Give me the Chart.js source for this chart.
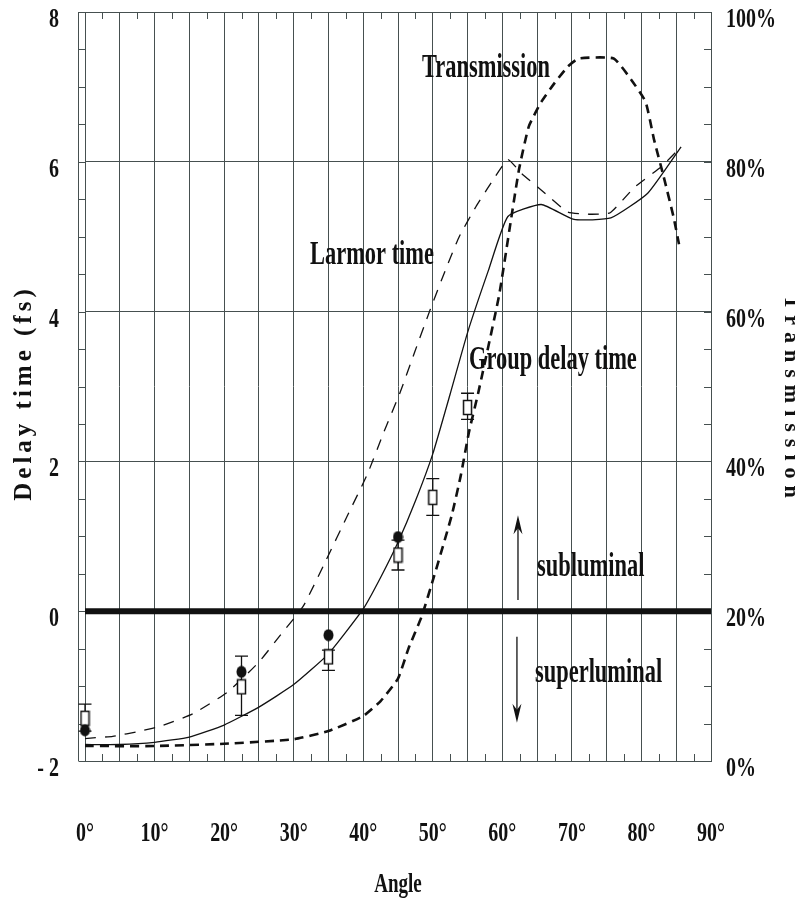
<!DOCTYPE html>
<html>
<head>
<meta charset="utf-8">
<script src="https://cdn.jsdelivr.net/npm/chart.js@4.4.1/dist/chart.umd.min.js"></script>
<style>
  html, body { margin: 0; padding: 0; background: #fff; }
  #wrap { width: 795px; height: 907px; }
</style>
</head>
<body>
<div id="wrap"><canvas id="chart" width="795" height="907"></canvas></div>
<script>
// Larmor time (fs), dashed thin line
const larmorAngle = [0, 4, 8, 11, 15.5, 20.5, 25, 28, 31.4, 34.7, 37.7, 40.6, 43, 45.3, 47.4, 49.6, 51.8, 53.8, 56.2, 58.4, 60.8, 62.7, 66, 69.4, 72.5, 75.5, 79, 82.8, 85.7];
const larmorTime = [-1.7, -1.67, -1.6, -1.53, -1.37, -1.08, -0.68, -0.33, 0.07, 0.69, 1.27, 1.83, 2.4, 2.92, 3.46, 4.02, 4.55, 5.0, 5.4, 5.72, 6.03, 5.85, 5.59, 5.33, 5.3, 5.32, 5.66, 5.93, 6.2];

// Group delay time (fs), solid thin line
const groupAngle = [0, 5, 10, 15, 20, 25, 30, 35, 40, 42.5, 45, 47.5, 50, 52.5, 55, 58, 60.8, 65.6, 70.3, 75.6, 80.9, 85.7];
const groupTime = [-1.78, -1.78, -1.75, -1.68, -1.52, -1.28, -0.98, -0.57, 0.03, 0.45, 0.92, 1.47, 2.1, 2.9, 3.72, 4.55, 5.27, 5.43, 5.23, 5.25, 5.58, 6.2];

// Transmission (%), thick dashed line on the right axis
const transAngle = [0, 10, 20, 30, 35, 40, 42.5, 45, 46.5, 48.4, 50.2, 52.7, 54, 55.2, 56.5, 59.5, 61.2, 62.4, 63.8, 65.6, 67.5, 69.4, 71, 76, 78.5, 80.6, 81.8, 83.2, 84.6, 85.4];
const transPercent = [2, 2, 2.3, 2.9, 4, 6, 8, 11, 15, 19.3, 24.7, 32.7, 38, 43.9, 49, 62, 72, 79, 84.7, 88, 90.5, 92.7, 93.8, 93.8, 91, 88, 83, 78, 72.7, 69];

// measured points: open squares with error bars, filled circles
const squareAngle = [0, 22.5, 35, 45, 50, 55];
const squareTime = [-1.43, -1.01, -0.61, 0.75, 1.52, 2.72];
const squareLow = [-1.6, -1.39, -0.79, 0.55, 1.28, 2.56];
const squareHigh = [-1.24, -0.6, -0.52, 0.95, 1.77, 2.91];
const circleAngle = [0, 22.5, 35, 45];
const circleTime = [-1.59, -0.81, -0.32, 0.99];

const zeroAngle = [0, 90];
const zeroTime = [0, 0];

const xTicks = [0, 10, 20, 30, 40, 50, 60, 70, 80, 90];
const xTickLabels = ['0°', '10°', '20°', '30°', '40°', '50°', '60°', '70°', '80°', '90°'];
const yTicks = [-2, 0, 2, 4, 6, 8];
const yTickLabels = ['- 2', '0', '2', '4', '6', '8'];
const y2Ticks = [0, 20, 40, 60, 80, 100];
const y2TickLabels = ['0%', '20%', '40%', '60%', '80%', '100%'];

const FONT = '"Liberation Serif", "Times New Roman", serif';
const INK = '#111';
const GRID = '#465050';

function pts(xs, ys) { return xs.map((v, i) => ({ x: v, y: ys[i] })); }

function makeSquare() {
  const c = document.createElement('canvas');
  c.width = 11; c.height = 17;
  const g = c.getContext('2d');
  g.fillStyle = '#fff'; g.fillRect(1, 1, 9, 15);
  g.strokeStyle = INK; g.lineWidth = 1.5; g.strokeRect(1.5, 1.5, 8, 14);
  return c;
}
function makeCircle() {
  const c = document.createElement('canvas');
  c.width = 11; c.height = 13;
  const g = c.getContext('2d');
  g.fillStyle = INK; g.beginPath(); g.ellipse(5.5, 6.5, 5, 6, 0, 0, Math.PI * 2); g.fill();
  return c;
}

function condText(ctx, text, x, y, size, sx, align) {
  ctx.save();
  ctx.font = 'bold ' + size + 'px ' + FONT;
  ctx.fillStyle = INK;
  ctx.textAlign = align || 'left';
  ctx.textBaseline = 'alphabetic';
  ctx.translate(x, y);
  ctx.scale(sx, 1);
  ctx.fillText(text, 0, 0);
  ctx.restore();
}

function arrow(ctx, x, y0, y1) {
  const dir = y1 < y0 ? -1 : 1;
  ctx.beginPath();
  ctx.moveTo(x, y0); ctx.lineTo(x, y1 - dir * 10);
  ctx.stroke();
  ctx.beginPath();
  ctx.moveTo(x, y1);
  ctx.lineTo(x - 4.5, y1 - dir * 19);
  ctx.lineTo(x, y1 - dir * 13);
  ctx.lineTo(x + 4.5, y1 - dir * 19);
  ctx.closePath();
  ctx.fill();
}

const decor = {
  id: 'decor',
  beforeDatasetsDraw(chart) {
    const { ctx, chartArea: a, scales: { x, y, y2 } } = chart;
    ctx.save();
    ctx.strokeStyle = GRID;
    ctx.lineWidth = 1;
    ctx.beginPath();
    // outer left spine with ladder ticks
    ctx.moveTo(a.left - 6.5, a.top); ctx.lineTo(a.left - 6.5, a.bottom);
    for (let v = -2; v <= 8; v += 0.5) {
      const p = Math.round(y.getPixelForValue(v)) + 0.5;
      ctx.moveTo(a.left - 6.5, p); ctx.lineTo(a.left, p);
    }
    for (let v = 5; v < 100; v += 5) {
      const p = Math.round(y2.getPixelForValue(v)) + 0.5;
      ctx.moveTo(a.right - 7, p); ctx.lineTo(a.right, p);
    }
    for (let v = 2.5; v < 90; v += 5) {
      const p = Math.round(x.getPixelForValue(v)) + 0.5;
      ctx.moveTo(p, a.bottom); ctx.lineTo(p, a.bottom - 7);
      ctx.moveTo(p, a.top); ctx.lineTo(p, a.top + 7);
    }
    ctx.stroke();

    // error bars
    ctx.strokeStyle = INK;
    ctx.lineWidth = 1.3;
    ctx.beginPath();
    squareAngle.forEach((ang, i) => {
      const px = x.getPixelForValue(ang);
      const lo = y.getPixelForValue(squareLow[i]);
      const hi = y.getPixelForValue(squareHigh[i]);
      ctx.moveTo(px, lo); ctx.lineTo(px, hi);
      ctx.moveTo(px - 6.5, lo); ctx.lineTo(px + 6.5, lo);
      ctx.moveTo(px - 6.5, hi); ctx.lineTo(px + 6.5, hi);
    });
    ctx.stroke();
    ctx.restore();
  },
  afterDraw(chart) {
    const { ctx, chartArea: a, scales: { x, y, y2 } } = chart;
    ctx.save();
    // tick labels
    yTicks.forEach((v, i) => condText(ctx, yTickLabels[i], a.left - 26, y.getPixelForValue(v) + 15, 27, 0.74, 'right'));
    y2Ticks.forEach((v, i) => condText(ctx, y2TickLabels[i], a.right + 15, y2.getPixelForValue(v) + 15, 27, 0.74, 'left'));
    xTicks.forEach((v, i) => condText(ctx, xTickLabels[i], x.getPixelForValue(v), 841, 27, 0.74, 'center'));

    // annotations
    condText(ctx, 'Transmission', x.getPixelForValue(48.45), y.getPixelForValue(7.13), 34, 0.66, 'left');
    condText(ctx, 'Larmor time', x.getPixelForValue(32.35), y.getPixelForValue(4.64), 34, 0.66, 'left');
    condText(ctx, 'Group delay time', x.getPixelForValue(55.2), y.getPixelForValue(3.23), 34, 0.66, 'left');
    condText(ctx, 'subluminal', x.getPixelForValue(65), y.getPixelForValue(0.47), 34, 0.66, 'left');
    condText(ctx, 'superluminal', x.getPixelForValue(64.7), y.getPixelForValue(-0.95), 34, 0.66, 'left');

    ctx.strokeStyle = INK; ctx.fillStyle = INK; ctx.lineWidth = 1.3;
    arrow(ctx, x.getPixelForValue(62.25), y.getPixelForValue(0.15), y.getPixelForValue(1.28));
    arrow(ctx, x.getPixelForValue(62.1), y.getPixelForValue(-0.34), y.getPixelForValue(-1.49));

    // axis titles
    condText(ctx, 'Angle', (a.left + a.right) / 2, 892, 28, 0.68, 'center');

    ctx.font = 'bold 25px ' + FONT;
    ctx.fillStyle = INK;
    ctx.letterSpacing = '4px';
    ctx.save();
    ctx.translate(25, 393);
    ctx.rotate(-Math.PI / 2);
    ctx.textAlign = 'center'; ctx.textBaseline = 'middle';
    ctx.fillText('Delay time (fs)', 0, 0);
    ctx.restore();

    ctx.font = 'bold 22px ' + FONT;
    ctx.letterSpacing = '7px';
    ctx.save();
    ctx.translate(785, 400);
    ctx.rotate(Math.PI / 2);
    ctx.textAlign = 'center'; ctx.textBaseline = 'alphabetic';
    ctx.fillText('Transmission', 0, 0);
    ctx.restore();
    ctx.restore();
  }
};

new Chart(document.getElementById('chart'), {
  type: 'line',
  data: {
    datasets: [
      { data: pts(circleAngle, circleTime), showLine: false, pointStyle: makeCircle(), pointRadius: 6, clip: false },
      { data: pts(squareAngle, squareTime), showLine: false, pointStyle: makeSquare(), pointRadius: 6, clip: false },
      { data: pts(groupAngle, groupTime), borderColor: INK, borderWidth: 1.3, pointRadius: 0, tension: 0.15 },
      { data: pts(larmorAngle, larmorTime), borderColor: INK, borderWidth: 1.3, borderDash: [11, 9], pointRadius: 0, tension: 0.15 },
      { data: pts(transAngle, transPercent), yAxisID: 'y2', borderColor: INK, borderWidth: 2.6, borderDash: [9, 6], pointRadius: 0, tension: 0.15 },
      { data: pts(zeroAngle, zeroTime), borderColor: INK, borderWidth: 6, pointRadius: 0, clip: false }
    ]
  },
  options: {
    responsive: false,
    animation: false,
    layout: { padding: { top: 12 } },
    plugins: { legend: { display: false }, tooltip: { enabled: false } },
    scales: {
      x: {
        type: 'linear', min: 0, max: 90,
        ticks: { stepSize: 5, display: false },
        grid: { color: GRID, lineWidth: 1, drawTicks: false },
        border: { color: GRID, width: 1 },
        afterFit: s => { s.height = 146; }
      },
      y: {
        min: -2, max: 8,
        ticks: { stepSize: 2, display: false },
        grid: { color: GRID, lineWidth: 1, drawTicks: false },
        border: { color: GRID, width: 1 },
        afterFit: s => { s.width = 85; }
      },
      y2: {
        position: 'right', min: 0, max: 100,
        ticks: { stepSize: 20, display: false },
        grid: { drawOnChartArea: false, drawTicks: false },
        border: { color: GRID, width: 1 },
        afterFit: s => { s.width = 84; }
      }
    }
  },
  plugins: [decor]
});
</script>
</body>
</html>
